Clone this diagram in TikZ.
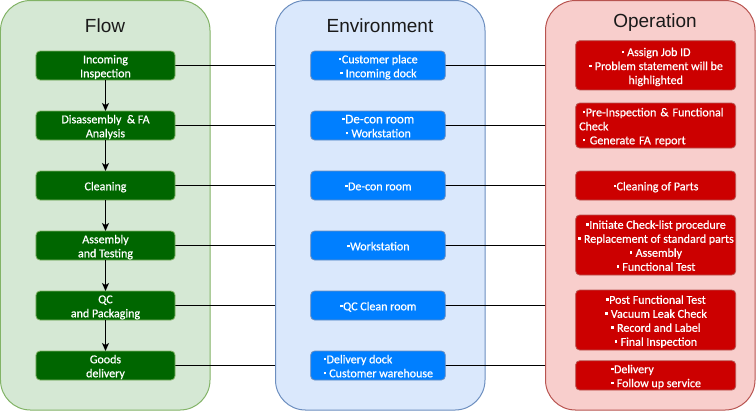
\documentclass[tikz,border=0pt]{standalone}
\usepackage{fontspec}
\setmainfont{Carlito}
\newfontfamily\boxfont[FakeBold=0.6]{Carlito}
\newfontfamily\titlefont{Liberation Sans}
\usetikzlibrary{arrows.meta}
\definecolor{flowfill}{HTML}{D5E8D4}
\definecolor{flowline}{HTML}{82B366}
\definecolor{envfill}{HTML}{DAE8FC}
\definecolor{envline}{HTML}{6C8EBF}
\definecolor{opfill}{HTML}{F8CECC}
\definecolor{opline}{HTML}{B85450}
\definecolor{gboxc}{HTML}{006600}
\definecolor{bboxc}{HTML}{007FFF}
\definecolor{rboxc}{HTML}{CC0000}
\definecolor{titlec}{HTML}{1A1A1A}
\newcommand\bul{\hspace{0.7bp}\raisebox{3bp}{\rule{2.4bp}{2.4bp}}\hspace{0.5bp}}
\newcommand\tp{\rule{0pt}{12.5bp}}
\newcommand\bt{\rule[-3bp]{0pt}{0pt}}
\pgfdeclarelayer{lA}\pgfdeclarelayer{lB}\pgfdeclarelayer{lC}\pgfdeclarelayer{lD}\pgfdeclarelayer{lE}
\pgfsetlayers{lA,lB,lC,lD,lE,main}
\begin{document}
\begin{tikzpicture}[x=1bp,y=-1bp,
 panel/.style={draw, line width=1bp, rounded corners=30bp, inner sep=0pt, outer sep=0pt},
 ptitle/.style={font=\titlefont\fontsize{19bp}{22bp}\selectfont, text=titlec, inner sep=0pt, anchor=base},
 boxbase/.style={draw, line width=0.8bp, rounded corners=4bp, text=white, inner xsep=0pt, inner ysep=-1.5bp, outer sep=0pt, align=center, font=\boxfont\fontsize{12bp}{14bp}\selectfont},
 gstep/.style={boxbase, fill=gboxc, draw=flowline, minimum width=139bp, minimum height=29bp},
 bstep/.style={boxbase, fill=bboxc, draw=envline, minimum width=134.6bp, minimum height=29bp},
 rstep/.style={boxbase, fill=rboxc, draw=opline, minimum width=160bp},
 link/.style={draw=black, line width=1bp},
 flowarrow/.style={link, -{Stealth[length=8bp,width=7bp,inset=2bp]}}
]
\useasboundingbox (0,0) rectangle (756,411);
% panels
\begin{pgfonlayer}{lA}
\node[panel, fill=flowfill, draw=flowline, minimum width=209.5bp, minimum height=409.5bp] (flowp) at (105.25,205.25) {};
\end{pgfonlayer}
\begin{pgfonlayer}{lC}
\node[panel, fill=envfill, draw=envline, minimum width=209.5bp, minimum height=409.5bp] (envp) at (380.25,205.25) {};
\end{pgfonlayer}
\begin{pgfonlayer}{lE}
\node[panel, fill=opfill, draw=opline, minimum width=209.5bp, minimum height=409.5bp] (opp) at (650.25,205.25) {};
\end{pgfonlayer}
% titles
\node[ptitle] (tflow) at (105,32) {Flow};
\node[ptitle] (tenv) at (380,32) {Environment};
\node[ptitle] (top) at (655,27.5) {Operation};
% flow steps
\node[gstep] (g1) at (105.5,65.5) {\tp Incoming\\Inspection\bt};
\node[gstep] (g2) at (105.5,125.5) {\tp Disassembly\ \ \& FA\\Analysis\bt};
\node[gstep] (g3) at (105.5,185.5) {\tp Cleaning\bt};
\node[gstep] (g4) at (105.5,245.5) {\tp Assembly\\and Testing\bt};
\node[gstep] (g5) at (105.5,305.5) {\tp QC\\and Packaging\bt};
\node[gstep] (g6) at (105.5,365.5) {\tp Goods\\delivery\bt};
% environment
\node[bstep] (b1) at (378,65.5) {\tp\bul Customer place\\\bul\ Incoming dock\bt};
\node[bstep] (b2) at (378,125.5) {\tp{\fontsize{13bp}{14bp}\selectfont \bul De-con room}\\\bul\ Workstation\bt};
\node[bstep] (b3) at (378,185.5) {\tp\bul De-con room\bt};
\node[bstep] (b4) at (378,245.5) {\tp\bul Workstation\bt};
\node[bstep] (b5) at (378,305.5) {\tp\bul QC Clean room\bt};
\node[bstep, align=left] (b6) at (378,365.5) {\tp\bul Delivery dock\\\bul\ Customer warehouse\bt};
% operation
\node[rstep, minimum height=49.3bp] (r1) at (655.7,65.3) {\tp\bul\ Assign Job ID\\\bul\ Problem statement will be\\highlighted\bt};
\node[rstep, minimum height=45bp, text width=153bp, inner xsep=3.5bp, align=left] (r2) at (655.7,125.5) {\tp\hspace{3bp}\bul Pre-Inspection \& Functional\\Check\\\hspace{3bp}\bul\ Generate FA report\bt};
\node[rstep, minimum height=29bp] (r3) at (655.7,185.5) {\tp\bul Cleaning of Parts\bt};
\node[rstep, minimum height=60bp] (r4) at (655.7,245) {\tp\bul Initiate Check-list procedure\\\bul\ Replacement of standard parts\\\bul\ Assembly\\\bul\ Functional Test\bt};
\node[rstep, minimum height=60bp] (r5) at (655.7,320) {\tp\bul Post Functional Test\\\bul\ Vacuum Leak Check\\\bul\ Record and Label\\\bul\ Final Inspection\bt};
\node[rstep, minimum height=29.3bp, align=left] (r6) at (655.7,375.4) {\tp\bul Delivery\\\bul\ Follow up service\bt};
% flow arrows
\draw[flowarrow] (g1) -- (g2);
\draw[flowarrow] (g2) -- (g3);
\draw[flowarrow] (g3) -- (g4);
\draw[flowarrow] (g4) -- (g5);
\draw[flowarrow] (g5) -- (g6);
% links
\begin{pgfonlayer}{lB}
\foreach \i in {1,...,6} {\draw[link] (g\i.east) -- (b\i.west);}
\end{pgfonlayer}
\begin{pgfonlayer}{lD}
\foreach \i in {1,...,6} {\draw[link] (b\i.east) -- (b\i.east -| r\i.west);}
\end{pgfonlayer}
\end{tikzpicture}
\end{document}
